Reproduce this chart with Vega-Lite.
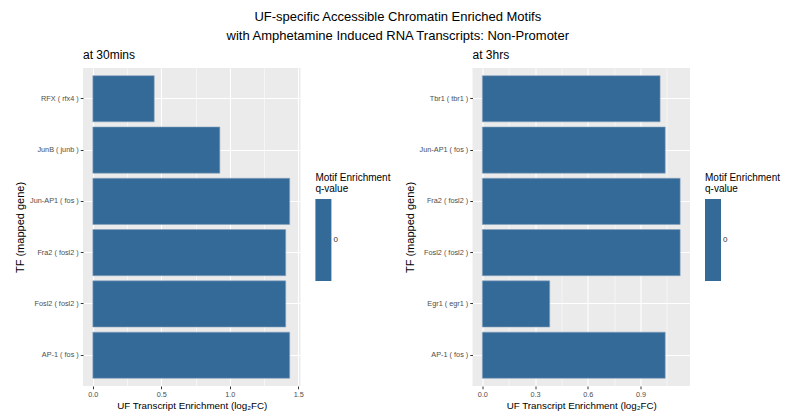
{
  "$schema": "https://vega.github.io/schema/vega-lite/v6.json",
  "padding": {"left": 14, "top": 10, "right": 5, "bottom": 4},
  "title": {
    "text": ["UF-specific Accessible Chromatin Enriched Motifs", "with Amphetamine Induced RNA Transcripts: Non-Promoter"],
    "fontSize": 13,
    "fontWeight": "normal",
    "font": "Liberation Sans",
    "color": "#000000",
    "anchor": "middle",
    "frame": "bounds",
    "lineHeight": 19.5,
    "offset": 6
  },
  "datasets": {
    "t30": [
      {"tf": "RFX ( rfx4 )", "fc": 0.448, "q": 0},
      {"tf": "JunB ( junb )", "fc": 0.927, "q": 0},
      {"tf": "Jun-AP1 ( fos )", "fc": 1.437, "q": 0},
      {"tf": "Fra2 ( fosl2 )", "fc": 1.408, "q": 0},
      {"tf": "Fosl2 ( fosl2 )", "fc": 1.408, "q": 0},
      {"tf": "AP-1 ( fos )", "fc": 1.437, "q": 0}
    ],
    "t3h": [
      {"tf": "Tbr1 ( tbr1 )", "fc": 1.011, "q": 0},
      {"tf": "Jun-AP1 ( fos )", "fc": 1.04, "q": 0},
      {"tf": "Fra2 ( fosl2 )", "fc": 1.125, "q": 0},
      {"tf": "Fosl2 ( fosl2 )", "fc": 1.125, "q": 0},
      {"tf": "Egr1 ( egr1 )", "fc": 0.383, "q": 0},
      {"tf": "AP-1 ( fos )", "fc": 1.04, "q": 0}
    ]
  },
  "hconcat": [
    {
      "data": {"name": "t30"},
      "width": 217.5,
      "height": 318,
      "title": {"text": "at 30mins"},
      "mark": {"type": "bar", "stroke": "#8aa3bd", "strokeWidth": 0.6},
      "encoding": {
        "y": {
          "field": "tf", "type": "nominal", "sort": null,
          "scale": {"paddingInner": 0.1, "paddingOuter": 0.15},
          "axis": {"title": "TF (mapped gene)", "bandPosition": 0.5}
        },
        "x": {
          "field": "fc", "type": "quantitative",
          "scale": {"domain": [-0.072, 1.516], "nice": false, "zero": false},
          "axis": {
            "title": "UF Transcript Enrichment (log₂FC)",
            "values": [0, 0.25, 0.5, 0.75, 1, 1.25, 1.5],
            "labelExpr": "round(datum.value*4) % 2 == 1 ? '' : format(datum.value, '.1f')",
            "gridWidth": {"condition": {"test": "round(datum.value*4) % 2 == 1", "value": 0.55}, "value": 1.1},
            "tickOpacity": {"condition": {"test": "round(datum.value*4) % 2 == 1", "value": 0}, "value": 1}
          }
        },
        "color": {
          "field": "q", "type": "quantitative",
          "scale": {"domain": [-1, 1], "range": ["#336A98", "#336A98"]},
          "legend": {
            "title": ["Motif Enrichment", "\u2002q-value"],
            "values": [0],
            "orient": "none",
            "legendX": 232.4,
            "legendY": 105
          }
        }
      }
    },
    {
      "data": {"name": "t3h"},
      "width": 217.5,
      "height": 318,
      "title": {"text": "at 3hrs"},
      "mark": {"type": "bar", "stroke": "#8aa3bd", "strokeWidth": 0.6},
      "encoding": {
        "y": {
          "field": "tf", "type": "nominal", "sort": null,
          "scale": {"paddingInner": 0.1, "paddingOuter": 0.15},
          "axis": {"title": "TF (mapped gene)", "bandPosition": 0.5}
        },
        "x": {
          "field": "fc", "type": "quantitative",
          "scale": {"domain": [-0.056, 1.181], "nice": false, "zero": false},
          "axis": {
            "title": "UF Transcript Enrichment (log₂FC)",
            "values": [0, 0.15, 0.3, 0.45, 0.6, 0.75, 0.9, 1.05],
            "labelExpr": "round(datum.value/0.15) % 2 == 1 ? '' : format(datum.value, '.1f')",
            "gridWidth": {"condition": {"test": "round(datum.value/0.15) % 2 == 1", "value": 0.55}, "value": 1.1},
            "tickOpacity": {"condition": {"test": "round(datum.value/0.15) % 2 == 1", "value": 0}, "value": 1}
          }
        },
        "color": {
          "field": "q", "type": "quantitative",
          "scale": {"domain": [-1, 1], "range": ["#336A98", "#336A98"]},
          "legend": {
            "title": ["Motif Enrichment", "\u2002q-value"],
            "values": [0],
            "orient": "none",
            "legendX": 232.5,
            "legendY": 105
          }
        }
      }
    }
  ],
  "spacing": 171.5,
  "bounds": "flush",
  "resolve": {
    "scale": {"color": "independent", "x": "independent", "y": "independent"},
    "legend": {"color": "independent"}
  },
  "config": {
    "font": "Liberation Sans",
    "view": {"fill": "#EBEBEB", "stroke": null},
    "title": {"fontSize": 12, "fontWeight": "normal", "anchor": "start", "frame": "group", "color": "#000000", "offset": 6, "font": "Liberation Sans"},
    "axis": {
      "domain": false,
      "grid": true,
      "gridColor": "#FFFFFF",
      "gridWidth": 1.1,
      "tickColor": "#333333",
      "tickSize": 2.75,
      "tickWidth": 1,
      "labelColor": "#4D4D4D",
      "labelFontSize": 7.3,
      "labelPadding": 2,
      "titleFontSize": 11,
      "titleFontWeight": "normal",
      "titleColor": "#000000"
    },
    "axisY": {"titlePadding": 4},
    "axisX": {"titlePadding": 2, "titleFontSize": 9.8},
    "legend": {
      "titleFontSize": 10,
      "titleFontWeight": "normal",
      "titleColor": "#000000",
      "titleLineHeight": 11,
      "titlePadding": 5,
      "labelFontSize": 8,
      "labelColor": "#333333",
      "gradientLength": 82,
      "gradientThickness": 16,
      "gradientStrokeWidth": 0,
      "labelOffset": 5
    }
  }
}
